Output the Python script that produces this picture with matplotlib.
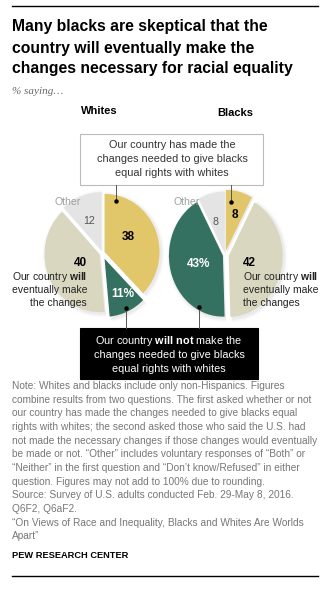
import matplotlib
matplotlib.use("Agg")
import matplotlib.pyplot as plt
from matplotlib.patches import Rectangle

plt.rcParams["font.family"] = ["Liberation Sans", "DejaVu Sans"]
plt.rcParams["mathtext.fontset"] = "custom"
plt.rcParams["mathtext.rm"] = "Liberation Sans"
plt.rcParams["mathtext.bf"] = "Liberation Sans:bold"

# ---- data -------------------------------------------------------------
groups = ["Whites", "Blacks"]
categories = ["Has made changes", "Will not make changes", "Will eventually make changes", "Other"]
whites_values = [38, 11, 40, 12]          # clockwise from 12 o'clock
blacks_values = [8, 42, 43, 8]
whites_colors = ["#e2c66a", "#357160", "#dad7c0", "#e4e4e4"]
blacks_colors = ["#e2c66a", "#dad7c0", "#357160", "#e4e4e4"]
whites_explode = [0.05, 0.11, 0.05, 0.05]
blacks_explode = [0.07, 0.07, 0.04, 0.04]

title_lines = ["Many blacks are skeptical that the",
               "country will eventually make the",
               "changes necessary for racial equality"]
note_lines = [
    "Note: Whites and blacks include only non-Hispanics. Figures",
    "combine results from two questions. The first asked whether or not",
    "our country has made the changes needed to give blacks equal",
    "rights with whites; the second asked those who said the U.S. had",
    "not made the necessary changes if those changes would eventually",
    "be made or not. \u201cOther\u201d includes voluntary responses of \u201cBoth\u201d or",
    "\u201cNeither\u201d in the first question and \u201cDon\u2019t know/Refused\u201d in either",
    "question. Figures may not add to 100% due to rounding.",
    "Source: Survey of U.S. adults conducted Feb. 29-May 8, 2016.",
    "Q6F2, Q6aF2.",
    "\u201cOn Views of Race and Inequality, Blacks and Whites Are Worlds",
    "Apart\u201d",
]

W, H = 330, 589
fig = plt.figure(figsize=(W / 100, H / 100), dpi=100)
fig.patch.set_facecolor("white")

# overlay axes in pixel coordinates (y grows downward)
ax = fig.add_axes([0, 0, 1, 1])
ax.set_xlim(0, W)
ax.set_ylim(H, 0)
ax.axis("off")


def pie_axes(cx, cy, rx, ry, values, colors, explode):
    span = 1.4
    w, h = 2 * span * rx, 2 * span * ry
    pax = fig.add_axes([(cx - w / 2) / W, (H - cy - h / 2) / H, w / W, h / H], zorder=1)
    # soft drop shadow
    for dr, a in [(0.06, 0.018), (0.04, 0.025), (0.02, 0.035)]:
        pax.pie(values, colors=["#000000"] * len(values), startangle=90,
                counterclock=False, explode=explode, radius=1 + dr,
                center=(0.025, -0.025), frame=True,
                wedgeprops=dict(linewidth=0, alpha=a))
    pax.pie(values, colors=colors, startangle=90, counterclock=False,
            explode=explode, radius=1, frame=True, wedgeprops=dict(linewidth=0))
    pax.set_aspect("auto")
    pax.set_xlim(-span, span)
    pax.set_ylim(-span, span)
    pax.axis("off")
    return pax


pie_axes(102, 253, 55, 58, whites_values, whites_colors, whites_explode)
pie_axes(225, 255, 54, 61, blacks_values, blacks_colors, blacks_explode)

ax2 = fig.add_axes([0, 0, 1, 1], zorder=2)
ax2.set_xlim(0, W)
ax2.set_ylim(H, 0)
ax2.axis("off")
ax2.patch.set_alpha(0)

# rules
ax.plot([12, 318], [6, 6], color="black", lw=1.0)
ax.plot([12, 318], [576, 576], color="black", lw=1.0)

# title
for i, line in enumerate(title_lines):
    ax.text(12, 31.5 + i * 21, line, fontsize=11.3, fontweight="bold",
            ha="left", va="baseline", color="black")
ax.text(12, 94, "% saying\u2026", fontsize=8, style="italic", color="#666666",
        family=["Liberation Serif", "DejaVu Serif"], ha="left", va="baseline")

# group headers
ax.text(99, 111, groups[0], fontsize=8, fontweight="bold", ha="center", va="center")
ax.text(235, 113, groups[1], fontsize=8, fontweight="bold", ha="center", va="center")

# top callout
ax.add_patch(Rectangle((80, 134), 183, 51, facecolor="white", edgecolor="#bbbbbb", lw=0.8, zorder=3))
for i, line in enumerate(["Our country has made the",
                          "changes needed to give blacks",
                          "equal rights with whites"]):
    ax.text(172, 145 + i * 14, line, fontsize=7.8, color="#333333",
            ha="center", va="center", zorder=4)

# bottom callout
ax.add_patch(Rectangle((80, 328), 178, 51, facecolor="black", edgecolor="black", lw=0.8, zorder=3))
for i, line in enumerate([r"Our country $\mathbf{will\ not}$ make the",
                          "changes needed to give blacks",
                          "equal rights with whites"]):
    ax.text(169, 341 + i * 14, line, fontsize=7.8, color="white",
            ha="center", va="center", zorder=4)

# leader lines
for (x, y0, y1) in [(116, 185, 201), (231, 185, 202), (126, 308, 328), (199, 307, 328)]:
    ax2.plot([x, x], [y0, y1], color="#555555", lw=0.7)
    ax2.plot([x], [y1 if y1 < 300 else y0], marker="o", ms=2.2, color="black")

# whites labels
ax2.text(68, 202, "Other", fontsize=7.6, color="#a0a0a0", ha="center", va="center")
ax2.text(89, 221, str(whites_values[3]), fontsize=7.6, color="#555555", ha="center", va="center")
ax2.text(128, 237, str(whites_values[0]), fontsize=8.5, fontweight="bold", ha="center", va="center")
ax2.text(123, 294, f"{whites_values[1]}%", fontsize=8.5, fontweight="bold", color="white",
         ha="center", va="center")
ax2.text(87, 263, str(whites_values[2]), fontsize=8.5, fontweight="bold", ha="right", va="center")
for i, line in enumerate([r"Our country $\mathbf{will}$", "eventually make", "the changes"]):
    ax2.text(87, 277 + i * 13, line, fontsize=7.5, color="#222222", ha="right", va="center")

# blacks labels
ax2.text(187, 202, "Other", fontsize=7.6, color="#a0a0a0", ha="center", va="center")
ax2.text(215, 222, str(blacks_values[3]), fontsize=7.6, color="#555555", ha="center", va="center")
ax2.text(235, 215, str(blacks_values[0]), fontsize=8.5, fontweight="bold", ha="center", va="center")
ax2.text(199, 264, f"{blacks_values[2]}%", fontsize=8.5, fontweight="bold", color="white",
         ha="center", va="center")
ax2.text(243, 263, str(blacks_values[1]), fontsize=8.5, fontweight="bold", ha="left", va="center")
for i, line in enumerate([r"Our country $\mathbf{will}$", "eventually make", "the changes"]):
    ax2.text(243, 277 + i * 13, line, fontsize=7.5, color="#222222", ha="left", va="center")

# note
for i, line in enumerate(note_lines):
    ax.text(12, 386 + i * 13.65, line, fontsize=7.3, color="#777777",
            ha="left", va="center")
ax.text(12, 555, "PEW RESEARCH CENTER", fontsize=6.7, fontweight="bold",
        ha="left", va="center")

fig.savefig("out.png", dpi=100, facecolor="white")
